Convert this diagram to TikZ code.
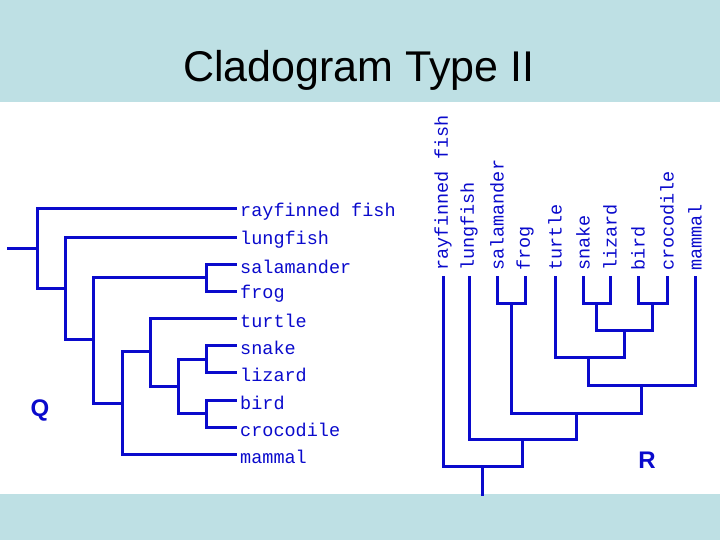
\documentclass[tikz,border=0pt]{standalone}
\usepackage{fontspec}
\setmainfont{Liberation Sans}
\newfontfamily\monof{Liberation Mono}
\definecolor{band}{HTML}{BEE0E4}
\definecolor{tree}{HTML}{0A0ACC}
\begin{document}
\begin{tikzpicture}[x=1pt,y=-1pt,
  br/.style={draw=tree,line width=3pt,line cap=rect},
  lab/.style={font=\monof\fontsize{18.5}{20}\selectfont,text=tree,inner sep=0pt},
  big/.style={font=\bfseries\fontsize{24}{26}\selectfont,text=tree}]
\useasboundingbox (0,0) rectangle (720,540);
\fill[band] (0,0) rectangle (720,102);
\fill[band] (0,494) rectangle (720,540);
\node (title) at (359,70) {\fontsize{43}{45}\selectfont Cladogram Type II};
% left tree
\foreach \n/\t/\y in {a/rayfinned fish/209,b/lungfish/237,c/salamander/264,d/frog/291,e/turtle/318,f/snake/345,g/lizard/372,h/bird/400,i/crocodile/427,j/mammal/454}
  \node[lab,anchor=west] (L\n) at (240,\y+3) {\t};
\draw[br] (8,248) -- (37,248);
\draw[br] (235,209) -| (37,288) -- (65,288);
\draw[br] (235,237) -| (65,339) -- (93,339);
\draw[br] (206,277) -| (93,403) -- (122,403);
\draw[br] (235,264) -| (206,291) -- (235,291);
\draw[br] (235,454) -| (122,351) -- (150,351);
\draw[br] (235,318) -| (150,386) -- (178,386);
\draw[br] (206,359) -| (178,413) -- (206,413);
\draw[br] (235,345) -| (206,372) -- (235,372);
\draw[br] (235,400) -| (206,427) -- (235,427);
\node[big] (Q) at (40,410) {Q};
% right tree
\foreach \n/\t/\x in {a/rayfinned fish/443,b/lungfish/469,c/salamander/497,d/frog/525,e/turtle/555,f/snake/583,g/lizard/610,h/bird/638,i/crocodile/667,j/mammal/695}
  \node[lab,anchor=west,rotate=90] (R\n) at (\x,271) {\t};
\draw[br] (497,277) |- (525,303) -- (525,277);
\draw[br] (583,277) |- (610,303) -- (610,277);
\draw[br] (638,277) |- (667,303) -- (667,277);
\draw[br] (596,303) |- (652,330) -- (652,303);
\draw[br] (555,277) |- (624,357) -- (624,330);
\draw[br] (588,357) |- (695,385) -- (695,277);
\draw[br] (511,303) |- (641,413) -- (641,385);
\draw[br] (469,277) |- (576,439) -- (576,413);
\draw[br] (443,277) |- (522,466) -- (522,439);
\draw[br] (482,466) -- (482,494);
\node[big] (R) at (647,460) {R};
\end{tikzpicture}
\end{document}
